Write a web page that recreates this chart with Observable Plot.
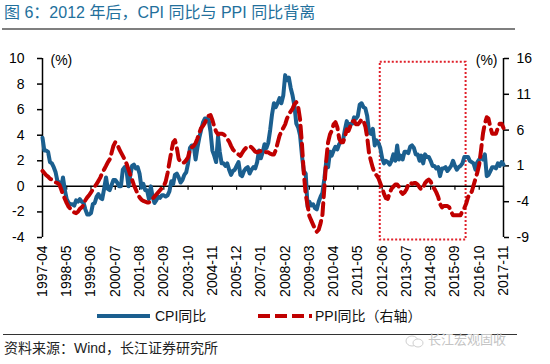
<!DOCTYPE html>
<html>
<head>
<meta charset="utf-8">
<script src="https://cdn.jsdelivr.net/npm/d3@7"></script>
<script src="https://cdn.jsdelivr.net/npm/@observablehq/plot@0.6"></script>
<style>
  html, body { margin: 0; padding: 0; background: #fff; }
  body { width: 550px; height: 364px; position: relative; overflow: hidden;
         font-family: "Liberation Sans", Arial, "Noto Sans CJK SC", sans-serif; }
  #title { position: absolute; left: 4px; top: 3px; font-size: 16px; line-height: 20px;
           color: #22709c; white-space: nowrap; }
  #rule1 { position: absolute; left: 2px; top: 28px; width: 513px; height: 2px; background: #7f7f7f; }
  #chart { position: absolute; left: 0; top: 32px; }
  .lgtext { position: absolute; top: 306px; font-size: 14px; line-height: 20px; color: #111; white-space: nowrap; }
  #lgcpi { position: absolute; left: 97px; top: 314px; width: 53px; height: 4px; background: #1b5f8f; }
  #lgppi { position: absolute; left: 258px; top: 313px; }
  #rule2 { position: absolute; left: 3px; top: 334px; width: 514px; height: 1px; background: #333; }
  #source { position: absolute; left: 4px; top: 338px; font-size: 14px; line-height: 20px; color: #222; white-space: nowrap; }
  #wm { position: absolute; left: 428px; top: 331px; font-size: 13px; line-height: 18px; color: #c4c4c4; white-space: nowrap; }
  #wmicon { position: absolute; left: 405px; top: 335px; }
</style>
</head>
<body>
<div id="title">图 6：2012 年后，CPI 同比与 PPI 同比背离</div>
<div id="rule1"></div>
<div id="chart"></div>
<div id="lgcpi"></div>
<div class="lgtext" style="left:155px">CPI同比</div>
<svg id="lgppi" width="54" height="6"><line x1="0" y1="3" x2="54" y2="3" stroke="#c00000" stroke-width="4" stroke-dasharray="12,5"/></svg>
<div class="lgtext" style="left:315px">PPI同比（右轴）</div>
<div id="rule2"></div>
<svg id="wmicon" width="20" height="14"><ellipse cx="7" cy="6" rx="6" ry="5" fill="none" stroke="#cfcfcf" stroke-width="1"/><ellipse cx="13" cy="8" rx="5" ry="4" fill="#fff" stroke="#cfcfcf" stroke-width="1"/></svg>
<div id="wm">长江宏观固收</div>
<div id="source">资料来源：Wind，长江证券研究所</div>
<script>
// CPI YoY (%), monthly from 1997-04 to 2017-11 (left axis)
const cpi = [
  3.8, 2.8, 2.8, 2.7, 1.9, 1.8, 1.5, 1.1, 0.4,                       // 1997 Apr-Dec
  0.3, -0.1, 0.7, -0.3, -1.0, -1.3, -1.4, -1.4, -1.5, -1.1, -1.2, -1.0, // 1998
  -1.2, -1.3, -1.8, -2.2, -2.2, -2.1, -1.4, -1.3, -0.8, -0.6, -0.9, -1.0, // 1999
  -0.2, 0.7, -0.2, -0.3, 0.1, 0.5, 0.5, 0.3, 0.0, 0.0, 1.3, 1.5,     // 2000
  1.2, 0.0, 0.8, 1.6, 1.7, 1.4, 1.5, 1.0, -0.1, 0.2, -0.3, -0.3,     // 2001
  -1.0, 0.0, -0.8, -1.3, -1.1, -0.8, -0.9, -0.7, -0.7, -0.8, -0.7, -0.4, // 2002
  0.4, 0.2, 0.9, 1.0, 0.7, 0.3, 0.5, 0.9, 1.1, 1.8, 3.0, 3.2,        // 2003
  3.2, 2.1, 3.0, 3.8, 4.4, 5.0, 5.3, 5.3, 5.2, 4.3, 2.8, 2.4,        // 2004
  1.9, 3.9, 2.7, 1.8, 1.8, 1.6, 1.8, 1.3, 0.9, 1.2, 1.3, 1.6,        // 2005
  1.9, 0.9, 0.8, 1.2, 1.4, 1.5, 1.0, 1.3, 1.5, 1.4, 1.9, 2.8,        // 2006
  2.2, 2.7, 3.3, 3.0, 3.4, 4.4, 5.6, 6.5, 6.2, 6.5, 6.9, 6.5,        // 2007
  7.1, 8.7, 8.3, 8.5, 7.7, 7.1, 6.3, 4.9, 4.6, 4.0, 2.4, 1.2,        // 2008
  1.0, -1.6, -1.2, -1.5, -1.4, -1.7, -1.8, -1.2, -0.8, -0.5, 0.6, 1.9, // 2009
  1.5, 2.7, 2.4, 2.8, 3.1, 2.9, 3.3, 3.5, 3.6, 4.4, 5.1, 4.6,        // 2010
  4.9, 4.9, 5.4, 5.3, 5.5, 6.4, 6.5, 6.2, 6.1, 5.5, 4.2, 4.1,        // 2011
  4.5, 3.2, 3.6, 3.4, 3.0, 2.2, 1.8, 2.0, 1.9, 1.7, 2.0, 2.5,        // 2012
  2.0, 3.2, 2.1, 2.4, 2.1, 2.7, 2.7, 2.6, 3.1, 3.2, 3.0, 2.5,        // 2013
  2.5, 2.0, 2.4, 1.8, 2.5, 2.3, 2.3, 2.0, 1.6, 1.6, 1.4, 1.5,        // 2014
  0.8, 1.4, 1.4, 1.5, 1.2, 1.4, 1.6, 2.0, 1.6, 1.3, 1.5, 1.6,        // 2015
  1.8, 2.3, 2.3, 2.3, 2.0, 1.9, 1.8, 1.3, 1.9, 2.1, 2.3, 2.1,        // 2016
  2.5, 0.8, 0.9, 1.2, 1.5, 1.5, 1.4, 1.8, 1.6, 1.9, 1.7             // 2017 Jan-Nov
];

// PPI YoY (%), monthly from 1997-04 to 2017-11 (right axis)
const ppi = [
  0.3, 0.0, -0.3, -0.5, -0.8, -0.9, -1.1, -1.3, -1.4,                // 1997 Apr-Dec
  -1.6, -2.3, -3.0, -3.6, -4.2, -4.7, -5.0, -5.3, -5.5, -5.6, -5.4, -5.0, // 1998
  -4.8, -4.4, -3.8, -3.4, -3.1, -2.7, -2.3, -1.9, -1.5, -1.1, -0.6, 0.0, // 1999
  0.5, 1.0, 1.5, 1.9, 2.8, 3.8, 4.3, 4.0, 3.4, 2.9, 2.4, 1.9,        // 2000
  1.3, 0.5, -0.2, -0.9, -1.7, -2.3, -2.9, -3.4, -3.7, -3.9, -4.0, -4.1, // 2001
  -4.1, -3.9, -3.6, -3.3, -3.0, -2.7, -2.4, -2.1, -1.8, -1.2, 0.0, 1.5, // 2002
  3.0, 4.3, 4.6, 3.5, 2.0, 1.5, 1.4, 1.5, 1.8, 2.2, 3.3, 3.6,        // 2003
  3.8, 4.2, 4.8, 5.6, 6.3, 6.6, 7.0, 7.6, 8.0, 8.1, 7.4, 6.5,        // 2004
  5.8, 5.4, 5.5, 5.5, 5.4, 5.2, 4.8, 4.4, 3.8, 3.3, 3.0, 2.8,        // 2005
  2.6, 2.4, 2.8, 3.2, 3.5, 3.7, 3.8, 3.6, 3.3, 3.0, 2.9, 3.0,        // 2006
  3.1, 3.1, 3.0, 2.9, 2.9, 2.7, 2.6, 2.6, 3.2, 4.2, 5.2, 5.8,        // 2007
  6.3, 6.8, 7.6, 8.2, 8.6, 9.0, 9.6, 9.9, 9.2, 7.5, 4.0, 0.0,        // 2008
  -3.0, -4.5, -6.0, -6.6, -7.2, -7.8, -8.2, -7.9, -7.0, -5.8, -2.1, 1.7, // 2009
  4.3, 5.4, 5.9, 6.8, 7.1, 6.4, 4.8, 4.3, 4.3, 5.0, 6.1, 5.9,        // 2010
  6.6, 7.2, 7.3, 6.8, 6.8, 7.1, 7.5, 7.3, 6.5, 5.0, 2.7, 1.7,        // 2011
  0.7, 0.0, -0.3, -0.7, -1.4, -2.1, -2.9, -3.5, -3.6, -2.8, -2.2, -1.9, // 2012
  -1.6, -1.6, -1.9, -2.6, -2.9, -2.7, -2.3, -1.6, -1.3, -1.5, -1.4, -1.4, // 2013
  -1.6, -2.0, -2.3, -2.0, -1.4, -1.1, -0.9, -1.2, -1.8, -2.2, -2.7, -3.3, // 2014
  -4.3, -4.8, -4.6, -4.6, -4.6, -4.8, -5.4, -5.9, -5.9, -5.9, -5.9, -5.9, // 2015
  -5.3, -4.9, -4.3, -3.4, -2.8, -2.6, -1.7, -0.8, 0.1, 1.2, 3.3, 5.5, // 2016
  6.9, 7.8, 7.6, 6.4, 5.5, 5.5, 5.5, 6.3, 6.9, 6.9, 6.3             // 2017 Jan-Nov
];

const xTickLabels = ["1997-04","1998-05","1999-06","2000-07","2001-08","2002-09","2003-10",
  "2004-11","2005-12","2007-01","2008-02","2009-03","2010-04","2011-05","2012-06","2013-07",
  "2014-08","2015-09","2016-10","2017-11"];
const leftTicks = [-4, -2, 0, 2, 4, 6, 8, 10];
const rightTicks = [-9, -4, 1, 6, 11, 16];
const highlight = [{from: "2012-05", to: "2016-03", top: 9.7, bottom: -4.2}];

const parse = d3.utcParse("%Y-%m");
const fmt = d3.utcFormat("%Y-%m");
const months = d3.utcMonth.range(parse("1997-04"), d3.utcMonth.offset(parse("2017-11"), 1));
const data = months.map((date, i) => ({date, cpi: cpi[i], ppi: ppi[i]}));
const tickDates = xTickLabels.map(parse);

// map right-axis (PPI) values onto the left-axis scale
const L0 = leftTicks[0], L1 = leftTicks[leftTicks.length - 1];
const R0 = rightTicks[0], R1 = rightTicks[rightTicks.length - 1];
const toLeft = p => L0 + (p - R0) * (L1 - L0) / (R1 - R0);
const fromLeft = v => R0 + (v - L0) * (R1 - R0) / (L1 - L0);

const blue = "#1b5f8f", red = "#c00000";

const chart = Plot.plot({
  width: 550,
  height: 273,
  marginTop: 26,
  marginBottom: 68,
  marginLeft: 42,
  marginRight: 47,
  style: {fontFamily: "'Liberation Sans', Arial, sans-serif", fontSize: "14px", color: "#000", background: "#fff"},
  x: {type: "utc", domain: [months[0], months[months.length - 1]]},
  y: {domain: [L0, L1]},
  marks: [
    Plot.rect(highlight, {x1: d => parse(d.from), x2: d => parse(d.to), y1: "bottom", y2: "top",
      fill: "none", stroke: "#e0202a", strokeWidth: 2, strokeDasharray: "2,2"}),
    Plot.ruleY([0], {stroke: "#000", strokeWidth: 1.5}),
    Plot.ruleX(tickDates, {y1: 0, y2: 0, insetBottom: -4, stroke: "#000", strokeWidth: 1.2}),
    Plot.ruleX([months[0], months[months.length - 1]], {stroke: "#000", strokeWidth: 1.5}),
    Plot.axisY(leftTicks, {anchor: "left", tickSize: 5, tickPadding: 13, tickFormat: d => String(d), strokeWidth: 1.5}),
    Plot.axisY(rightTicks.map(toLeft), {anchor: "right", tickSize: 5, tickPadding: 8,
      tickFormat: d => String(Math.round(fromLeft(d))), strokeWidth: 1.5}),
    Plot.axisX(tickDates, {anchor: "bottom", tickSize: 0, tickPadding: 8, tickRotate: -90, tickFormat: fmt}),
    Plot.line(data, {x: "date", y: "cpi", stroke: blue, strokeWidth: 4, strokeLinejoin: "round"}),
    Plot.line(data, {x: "date", y: d => toLeft(d.ppi), stroke: red, strokeWidth: 4,
      strokeDasharray: "12,6", strokeLinejoin: "round"}),
    Plot.text(["(%)"], {frameAnchor: "top-left", dx: 8, dy: 2, textAnchor: "start", lineAnchor: "middle"}),
    Plot.text(["(%)"], {frameAnchor: "top-right", dx: -6, dy: 2, textAnchor: "end", lineAnchor: "middle"})
  ]
});
document.getElementById("chart").appendChild(chart);
</script>
</body>
</html>
